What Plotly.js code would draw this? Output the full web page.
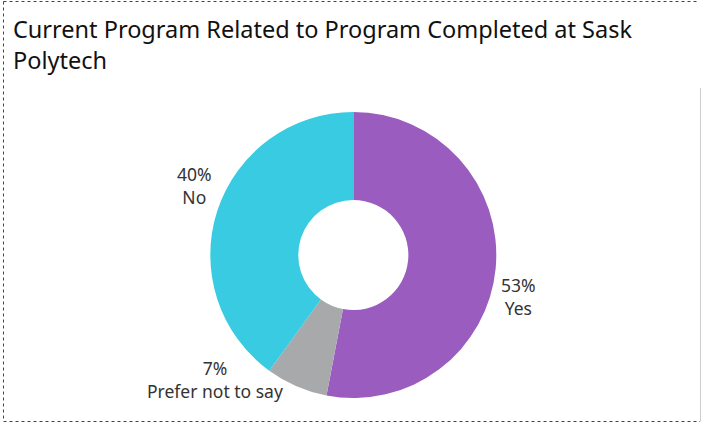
<!DOCTYPE html>
<html>
<head>
<meta charset="utf-8">
<script src="https://cdn.plot.ly/plotly-3.0.1.min.js"></script>
<style>html,body{margin:0;padding:0;background:#fff;}#chart{width:702px;height:425px;}</style>
</head>
<body>
<div id="chart"></div>
<script>
const labels = ["Yes", "Prefer not to say", "No"];
const values = [53, 7, 40];
const colors = ["#9A5CBE", "#A8A9AB", "#38CBE2"];
const titleText = "Current Program Related to Program Completed at Sask<br>Polytech";

const W = 702, H = 425;
const cx = 353.3, cy = 255, R = 143;

const labelPos = [
  {x: 518, y: 296},
  {x: 215, y: 379},
  {x: 194, y: 185}
];

const annotations = labels.map((l, i) => ({
  xref: "paper", yref: "paper",
  x: labelPos[i].x / W, y: 1 - labelPos[i].y / H,
  xanchor: "center", yanchor: "middle",
  text: values[i] + "%<br>" + l,
  showarrow: false,
  align: "center",
  font: {family: "Noto Sans, sans-serif", size: 17.5, color: "#333333"}
}));

annotations.push({
  xref: "paper", yref: "paper",
  x: 11 / W, y: 1 - 11 / H,
  xanchor: "left", yanchor: "top",
  text: titleText,
  showarrow: false,
  align: "left",
  font: {family: "Noto Sans, sans-serif", size: 23.5, color: "#111111"}
});

const data = [{
  type: "pie",
  labels: labels,
  values: values,
  marker: {colors: colors, line: {width: 0}},
  hole: 0.385,
  sort: false,
  direction: "clockwise",
  rotation: 0,
  textinfo: "none",
  hoverinfo: "label+percent",
  domain: {x: [(cx - R) / W, (cx + R) / W], y: [1 - (cy + R) / H, 1 - (cy - R) / H]}
}];

const dot = {color: "#444444", width: 1, dash: "dot"};
const layout = {
  width: W, height: H,
  margin: {l: 0, r: 0, t: 0, b: 0},
  paper_bgcolor: "#ffffff",
  showlegend: false,
  annotations: annotations,
  shapes: [
    {type: "line", xref: "paper", yref: "paper", x0: 3.5 / W, x1: 698 / W, y0: 1 - 1.5 / H, y1: 1 - 1.5 / H, line: dot},
    {type: "line", xref: "paper", yref: "paper", x0: 3.5 / W, x1: 3.5 / W, y0: 1 - 1.5 / H, y1: 1 - 421.5 / H, line: dot},
    {type: "line", xref: "paper", yref: "paper", x0: 3.5 / W, x1: 700 / W, y0: 1 - 421.5 / H, y1: 1 - 421.5 / H, line: dot},
    {type: "line", xref: "paper", yref: "paper", x0: 700.5 / W, x1: 700.5 / W, y0: 1 - 88 / H, y1: 1 - 421.5 / H, line: {color: "#cccccc", width: 1}}
  ]
};

Plotly.newPlot("chart", data, layout, {displayModeBar: false, staticPlot: true});
</script>
</body>
</html>
